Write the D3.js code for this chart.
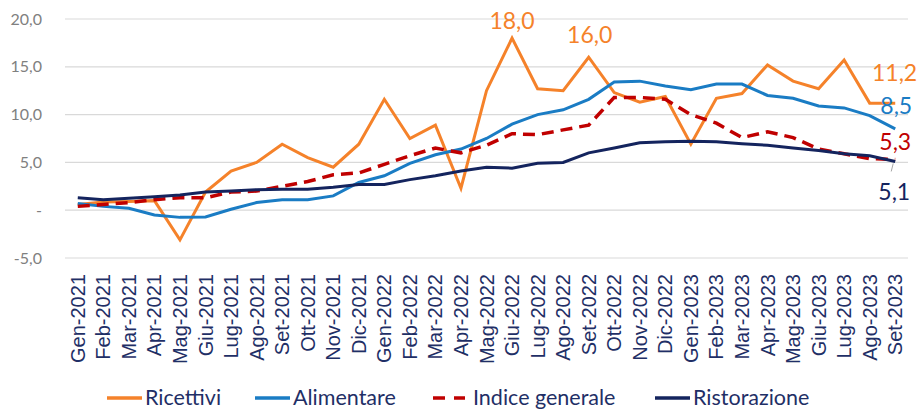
<!DOCTYPE html>
<html>
<head>
<meta charset="utf-8">
<script src="https://cdn.jsdelivr.net/npm/d3@7"></script>
<style>
  body { margin: 0; background: #fff; }
  svg { display: block; }
</style>
</head>
<body>
<script>
var width = 918, height = 410;

// months
var mesi = ["Gen-2021","Feb-2021","Mar-2021","Apr-2021","Mag-2021","Giu-2021","Lug-2021","Ago-2021","Set-2021","Ott-2021","Nov-2021","Dic-2021",
            "Gen-2022","Feb-2022","Mar-2022","Apr-2022","Mag-2022","Giu-2022","Lug-2022","Ago-2022","Set-2022","Ott-2022","Nov-2022","Dic-2022",
            "Gen-2023","Feb-2023","Mar-2023","Apr-2023","Mag-2023","Giu-2023","Lug-2023","Ago-2023","Set-2023"];

var ricettivi = [0.6,0.85,0.9,1.0,-3.1,1.9,4.1,5.0,6.9,5.5,4.5,6.9,
                 11.6,7.5,8.9,2.3,12.5,18.0,12.7,12.5,16.0,12.3,11.3,11.9,
                 6.9,11.7,12.2,15.2,13.5,12.7,15.7,11.2,11.2];
var alimentare = [0.7,0.4,0.2,-0.5,-0.75,-0.7,0.1,0.8,1.1,1.1,1.5,2.9,
                  3.6,4.9,5.8,6.4,7.5,9.0,10.0,10.5,11.6,13.4,13.5,13.0,
                  12.6,13.2,13.2,12.0,11.7,10.9,10.7,9.9,8.5];
var generale = [0.4,0.6,0.8,1.1,1.3,1.3,1.9,2.0,2.5,3.0,3.7,3.9,
                4.8,5.7,6.5,6.0,6.8,8.0,7.9,8.4,8.9,11.8,11.8,11.6,
                10.0,9.1,7.6,8.2,7.6,6.4,5.9,5.4,5.3];
var ristorazione = [1.3,1.1,1.25,1.4,1.6,1.9,2.0,2.15,2.2,2.2,2.4,2.7,
                    2.7,3.2,3.6,4.1,4.5,4.4,4.9,5.0,6.0,6.5,7.05,7.15,
                    7.2,7.15,6.95,6.8,6.5,6.25,5.9,5.7,5.1];

var yTicks = [-5, 0, 5, 10, 15, 20];
var yTickLabels = ["-5,0", "-", "5,0", "10,0", "15,0", "20,0"];

var series = [
  {name: "Ricettivi", values: ricettivi, color: "#F5822A", dash: null, w: 3},
  {name: "Alimentare", values: alimentare, color: "#1A7CC4", dash: null, w: 3},
  {name: "Indice generale", values: generale, color: "#C00000", dash: "12,7", w: 3.5},
  {name: "Ristorazione", values: ristorazione, color: "#14245E", dash: null, w: 3}
];

var svg = d3.select("body").append("svg")
    .attr("width", width)
    .attr("height", height);

var x = d3.scaleBand().domain(mesi).range([65, 908]);
var y = d3.scaleLinear().domain([-5, 20]).range([258, 19]);

// gridlines
svg.append("g").selectAll("line").data(yTicks).enter().append("line")
    .attr("x1", 65).attr("x2", 908)
    .attr("y1", function(d) { return y(d); })
    .attr("y2", function(d) { return y(d); })
    .attr("stroke", "#d9d9d9").attr("stroke-width", 1.2);

// y labels
svg.append("g").selectAll("text").data(yTicks).enter().append("text")
    .attr("x", 42)
    .attr("y", function(d) { return y(d); })
    .attr("dy", "0.35em")
    .attr("text-anchor", "end")
    .attr("font-family", "Lato")
    .attr("font-size", 16)
    .attr("fill", "#808080")
    .text(function(d, i) { return yTickLabels[i]; });

// x labels
svg.append("g").selectAll("text").data(mesi).enter().append("text")
    .attr("transform", function(d) {
      return "translate(" + (x(d) + x.bandwidth() / 2) + ",274) rotate(-90)";
    })
    .attr("dy", "0.35em")
    .attr("text-anchor", "end")
    .attr("font-family", "Liberation Sans")
    .attr("font-size", 20)
    .attr("fill", "#1F2F66")
    .text(function(d) { return d; });

var line = d3.line()
    .x(function(d, i) { return x(mesi[i]) + x.bandwidth() / 2; })
    .y(function(d) { return y(d); });

series.forEach(function(s) {
  svg.append("path")
    .datum(s.values)
    .attr("d", line)
    .attr("fill", "none")
    .attr("stroke", s.color)
    .attr("stroke-width", s.w)
    .attr("stroke-linejoin", "miter")
    .attr("stroke-dasharray", s.dash);
});

// data labels
function px(i) { return x(mesi[i]) + x.bandwidth() / 2; }
var last = mesi.length - 1;
var fmt = function(v) { return v.toFixed(1).replace(".", ","); };

var labels = [
  {i: 17, v: ricettivi[17], color: "#F5822A", dx: 0, dy: -17, anchor: "middle"},
  {i: 20, v: ricettivi[20], color: "#F5822A", dx: 1, dy: -22, anchor: "middle"},
  {i: last, v: ricettivi[last], color: "#F5822A", dx: 22, dy: -30, anchor: "end"},
  {i: last, v: alimentare[last], color: "#1A7CC4", dx: 17, dy: -23, anchor: "end"},
  {i: last, v: generale[last], color: "#C00000", dx: 16, dy: -18, anchor: "end"},
  {i: last, v: ristorazione[last], color: "#14245E", dx: 15, dy: 31, anchor: "end"}
];

svg.append("line")
    .attr("x1", px(last) - 2).attr("y1", y(ristorazione[last]) + 2)
    .attr("x2", px(last) - 4).attr("y2", y(ristorazione[last]) + 10)
    .attr("stroke", "#a6a6a6").attr("stroke-width", 1);

svg.append("g").selectAll("text").data(labels).enter().append("text")
    .attr("x", function(d) { return px(d.i) + d.dx; })
    .attr("y", function(d) { return y(d.v) + d.dy; })
    .attr("dy", "0.35em")
    .attr("text-anchor", function(d) { return d.anchor; })
    .attr("font-family", "Lato")
    .attr("font-size", 23)
    .attr("fill", function(d) { return d.color; })
    .text(function(d) { return fmt(d.v); });

// legend
var legendX = [107, 255, 433, 655];
var legend = svg.append("g").selectAll("g").data(series).enter().append("g")
    .attr("transform", function(d, i) { return "translate(" + legendX[i] + ",398)"; });

legend.append("line")
    .attr("x1", 0).attr("x2", function(d) { return d.dash ? 32 : 35; })
    .attr("y1", 0).attr("y2", 0)
    .attr("stroke", function(d) { return d.color; })
    .attr("stroke-width", 3.5)
    .attr("stroke-dasharray", function(d) { return d.dash ? "12,9" : null; });

legend.append("text")
    .attr("x", function(d) { return d.dash ? 40 : 38; })
    .attr("y", 6.5)
    .attr("font-family", "Lato")
    .attr("font-size", 21.5)
    .attr("fill", "#1F2F66")
    .text(function(d) { return d.name; });
</script>
</body>
</html>
